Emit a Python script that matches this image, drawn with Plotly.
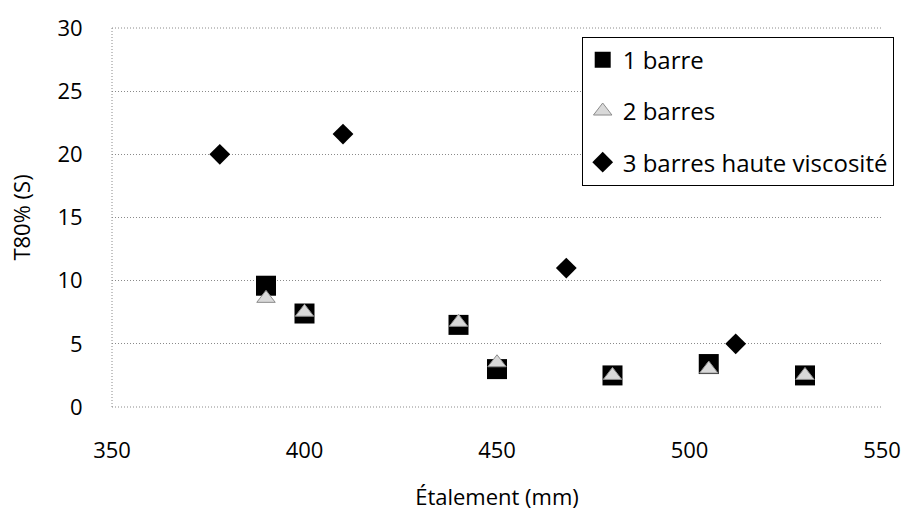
import plotly.graph_objects as go

# Data
x_1barre = [390, 400, 440, 450, 480, 505, 530]
y_1barre = [9.6, 7.4, 6.5, 3.0, 2.5, 3.4, 2.5]

x_2barres = [390, 400, 440, 450, 480, 505, 530]
y_2barres = [8.6, 7.5, 6.7, 3.5, 2.5, 3.0, 2.5]

x_3barres = [378, 410, 468, 512]
y_3barres = [20.0, 21.6, 11.0, 5.0]

x_ticks = [350, 400, 450, 500, 550]
y_ticks = [0, 5, 10, 15, 20, 25, 30]

FONT = "Open Sans"
GRID = "#8a8a8a"
DASH = "1px,2px"

fig = go.Figure()
fig.add_trace(go.Scatter(
    x=x_1barre, y=y_1barre, mode="markers", name="1 barre", legendgroup="a",
    marker=dict(symbol="square", size=20, color="black", line=dict(width=0)),
))
fig.add_trace(go.Scatter(
    x=x_2barres, y=y_2barres, mode="markers", name="2 barres", legendgroup="b",
    marker=dict(symbol="triangle-up", size=16, color="#d9d9d9",
                line=dict(width=1, color="#8c8c8c")),
))
fig.add_trace(go.Scatter(
    x=x_3barres, y=y_3barres, mode="markers", name="3 barres haute viscosité", legendgroup="c",
    marker=dict(symbol="diamond", size=16, color="black", line=dict(width=0)),
))

fig.update_layout(
    width=913, height=518,
    margin=dict(l=112, r=22, t=18, b=107),
    paper_bgcolor="white", plot_bgcolor="white",
    font=dict(family=FONT, size=22, color="black"),
    showlegend=True,
    legend=dict(
        x=0.61, y=0.977, xanchor="left", yanchor="top",
        bgcolor="white", bordercolor="black", borderwidth=1,
        font=dict(family=FONT, size=24, color="black"),
        tracegroupgap=17,
    ),
    xaxis=dict(
        range=[350, 550], tickvals=x_ticks, ticktext=[str(v) for v in x_ticks],
        showgrid=False, zeroline=False, showline=False,
        ticks="outside", ticklen=24, tickcolor="rgba(0,0,0,0)",
        title=dict(text="Étalement (mm)", font=dict(size=22), standoff=26),
    ),
    yaxis=dict(
        range=[0, 30], tickvals=y_ticks, ticktext=[str(v) for v in y_ticks],
        showgrid=True, gridcolor=GRID, griddash=DASH, gridwidth=1,
        zeroline=False, showline=False,
        ticks="outside", ticklen=24, tickcolor="rgba(0,0,0,0)",
        title=dict(text="T80% (S)", font=dict(size=22), standoff=20),
    ),
)

# dotted edges of the plot area (left, bottom, top) like the gridlines
for x0, x1, y0, y1 in [(0, 0, 0, 1), (0, 1, 0, 0), (0, 1, 1, 1)]:
    fig.add_shape(type="line", xref="paper", yref="paper", x0=x0, x1=x1, y0=y0, y1=y1,
                  line=dict(color=GRID, width=1, dash=DASH), layer="below")

fig.write_html("out.html")
